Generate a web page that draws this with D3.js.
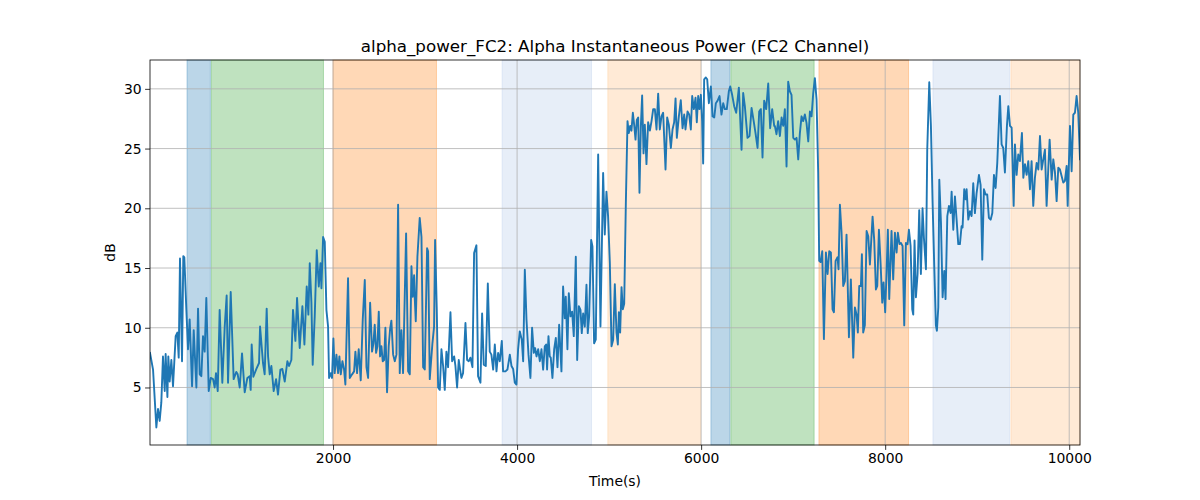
<!DOCTYPE html>
<html>
<head>
<meta charset="utf-8">
<script src="https://cdn.jsdelivr.net/npm/d3@7/dist/d3.min.js"></script>
<style>
  html, body { margin: 0; padding: 0; background: #fff; }
  svg { display: block; font-family: "DejaVu Sans", sans-serif; }
</style>
</head>
<body>
<svg id="chart" width="1200" height="500"></svg>
<script>
// ---- data ----
const title = "alpha_power_FC2: Alpha Instantaneous Power (FC2 Channel)";
const xLabel = "Time(s)";
const yLabel = "dB";
const xTicks = [2000, 4000, 6000, 8000, 10000];
const yTicks = [5, 10, 15, 20, 25, 30];
const xDomain = [11, 10117];

const times = [
11,44,80,98,116,134,152,171,181,200,210,225,243,261,290,308,323,337,359,373,384,406,424,442,468,486,515,533,551,569,587,605,623,649,671,696,714,728,747,768,797,823,844,859,888,920,949,964,986,1011,1040,1069,1094,1105,1116,1134,1167,1196,1207,1239,1257,1279,1294,1312,1330,1355,1381,1402,1428,1449,1475,1504,1522,1547,1565,1591,1609,1638,1667,1689,1714,1732,
1747,1765,1779,1801,1823,1845,1863,1874,1892,1910,1928,1946,1957,1975,1989,2004,2018,2037,2055,2069,2084,2102,2120,2134,2163,2182,2207,2229,2243,2261,2279,2301,2323,2345,2363,2381,2403,2424,2439,2453,2468,2482,2497,2511,2526,2540,2555,2569,2587,2605,2620,2634,2653,2671,2689,2707,2725,2743,2761,2794,2816,2834,2852,2866,2881,2888,2899,2917,2942,2961,2979,2997,3022,3033,3051,3080,3098,3109,3127,3142,3160,3178,3196,3214,3232,3250,3276,3294,3316,3330,3348,3366,3381,3395,3413,
3439,3457,3475,3493,3515,3533,3558,3576,3602,3620,3638,3660,3682,3703,3721,3740,3758,3776,3794,3812,3834,3848,3874,3895,3921,3939,3957,3975,3993,4011,4029,4051,4066,4084,4102,4124,4145,4163,4182,4196,4211,4229,4247,4265,4283,4301,4316,4326,4341,4355,4366,4384,4403,4421,4439,4457,4482,4500,4518,4529,4547,4562,4580,4598,4616,4638,4653,4671,4689,4703,4718,4736,4754,4768,4783,4805,4819,4837,4855,4881,4906,4935,4953,4971,4989,5008,5026,5044,
5062,5080,5095,5106,5120,5135,5149,5164,5182,5200,5214,5229,5243,5258,5272,5287,5301,5316,5330,5345,5359,5374,5388,5406,5424,5443,5461,5479,5497,5515,5533,5551,5569,5587,5613,5631,5649,5671,5689,5707,5722,5736,5758,5779,5798,5816,5830,5852,5870,5888,5903,5921,5939,5953,5968,5982,5997,6011,6022,6033,6051,6066,6084,6106,6124,6142,6160,6178,6200,6221,6240,6258,6279,6301,6316,6337,6359,6381,6410,6439,6457,6475,6504,6526,6548,6569,6591,6613,6631,6649,6667,6685,6707,6729,6750,6772,6794,
6801,6819,6837,6856,6874,6892,6910,6928,6946,6964,6982,7001,7019,7037,7055,7073,7091,7109,7127,7145,7164,7182,7200,7218,7236,7254,7272,7283,7298,7316,7334,7356,7374,7392,7410,7428,7443,7461,7482,7493,7508,7526,7544,7562,7580,7606,7627,7653,7671,7689,7703,7718,7736,7747,7761,7779,7798,7816,7834,7863,7881,7899,7914,7932,7950,7968,7982,8000,8015,8029,8044,8069,8087,8106,8124,8138,8156,8171,8189,8207,8225,8243,8258,8276,8294,8305,8319,8334,8352,8370,8388,8406,8421,8443,8457,
8479,8497,8515,8533,8551,8562,8577,8588,8606,8624,8642,8656,8675,8693,8711,8722,8740,8758,8776,8794,8812,8830,8841,8859,8874,8885,8903,8921,8939,8957,8975,8993,9019,9037,9055,9073,9091,9109,9127,9146,9164,9182,9200,9218,9247,9265,9283,9301,9323,9338,9356,9374,9396,9410,9428,9446,9464,9486,9501,9519,9537,9555,9573,9591,9609,9627,9646,9664,9682,9700,9718,9736,9754,9772,9787,9809,9827,9845,9863,9881,9899,9917,9935,9953,9972,9983,10008,10026,10044,10062,10080,10098,10117
];

const powerDb = [
7.9,6.5,1.65,3.2,2.2,3.75,7.6,4.7,7.8,4.2,7.6,5.5,7.3,5.1,9.3,9.6,7.5,15.8,7.2,16.0,15.9,11.5,8.2,10.7,5.1,9.8,5.0,11.6,6.1,5.95,9.3,8.0,12.5,4.7,5.8,5.7,5.0,6.2,4.7,11.5,5.4,10.1,12.7,5.4,13.0,5.7,6.3,6.1,5.0,7.85,4.6,5.8,5.95,4.8,8.6,5.9,6.55,7.05,10.1,7.05,6.1,11.6,7.6,6.1,6.8,4.7,5.7,4.4,6.5,6.55,5.5,7.2,6.8,7.3,11.5,8.9,12.5,8.3,11.8,8.6,13.45,11.1,
15.4,12.1,6.9,10.95,16.5,13.45,15.4,13.3,17.6,17.2,11.5,10.1,5.8,6.2,5.8,9.1,6.2,7.75,6.2,7.6,6.1,7.2,6.5,5.25,14.15,5.8,6.1,6.35,8.0,6.2,8.2,5.6,10.7,14.0,6.7,5.8,12.1,8.0,8.7,10.25,7.9,8.45,11.35,7.6,8.45,7.2,7.3,10.0,4.6,8.45,9.9,10.6,7.75,7.2,7.75,20.3,6.2,9.8,6.2,17.9,6.35,6.1,15.15,12.6,14.4,12.5,10.55,15.95,19.2,17.6,6.7,6.5,16.65,16.4,5.7,8.7,10.1,17.35,11.6,5.0,4.8,8.2,6.8,4.8,8.0,6.7,11.3,7.2,7.6,6.8,5.0,7.3,6.5,5.8,6.2,
10.4,7.3,7.2,7.5,6.7,16.25,16.9,5.95,5.4,11.2,6.9,6.8,13.7,8.0,7.75,6.5,8.6,6.35,7.9,7.2,8.9,6.35,6.35,6.5,7.75,6.8,6.55,5.4,5.25,8.2,9.7,9.0,7.2,14.85,10.7,7.75,5.8,10.0,7.9,8.3,7.6,8.2,7.2,8.2,6.5,8.45,8.6,6.5,9.3,7.6,7.5,5.8,8.2,9.15,6.7,10.25,6.35,13.45,10.8,12.6,8.2,12.9,10.95,11.35,9.3,15.95,7.3,11.8,11.5,9.55,11.2,10.1,13.6,9.55,10.95,17.35,16.8,8.7,9.0,24.5,10.1,22.95,17.8,21.4,19.3,15.4,8.45,9.0,
13.65,9.6,8.6,11.3,9.6,13.4,11.55,12.0,20.5,27.3,26.3,26.9,26.5,28.0,27.0,25.75,27.4,27.6,21.3,26.9,29.45,24.6,27.0,23.7,27.2,26.5,27.3,28.3,28.3,26.6,29.6,26.6,27.7,28.0,23.25,27.6,27.0,25.05,26.6,27.2,29.2,25.9,27.7,29.05,26.7,27.85,26.6,28.1,27.85,26.6,29.4,28.3,29.25,27.2,29.4,28.3,29.5,27.3,23.75,30.8,30.95,30.8,28.8,30.2,27.7,27.6,28.8,29.0,29.4,27.85,28.8,28.3,28.3,29.8,30.2,29.5,28.55,28.0,30.1,24.9,29.65,28.55,25.9,26.05,28.4,27.4,26.3,25.05,28.1,28.3,24.25,29.0,28.3,30.45,26.7,28.3,26.9,
26.9,26.2,27.3,26.05,27.6,26.9,28.3,23.5,30.6,29.8,29.5,25.9,25.75,25.9,24.1,26.3,27.7,27.3,27.85,27.15,25.6,28.1,27.7,29.65,30.9,29.1,23.0,15.6,15.5,16.4,9.05,16.3,14.5,16.4,16.3,11.55,11.3,15.6,15.9,14.9,20.3,17.95,13.5,13.9,17.8,9.2,14.05,7.5,11.7,11.1,9.6,13.5,13.5,16.15,9.6,10.2,18.1,17.65,15.3,19.3,17.3,13.2,13.5,18.2,15.4,12.1,13.8,11.3,14.6,18.2,12.4,18.1,14.05,17.95,16.3,17.95,17.0,17.1,16.85,10.2,17.1,17.0,18.2,16.85,11.55,11.1,17.3,12.55,14.5,19.85,14.5,20.0,17.5,14.9,24.9,
30.55,26.9,20.5,15.2,10.2,9.75,11.7,22.4,18.8,12.55,14.75,12.4,19.35,20.2,19.6,21.4,18.2,21.0,19.05,17.0,17.0,18.5,18.4,21.6,20.75,21.6,19.05,19.75,19.35,22.1,19.6,21.25,22.8,21.95,15.7,21.6,21.15,21.15,19.2,19.05,19.6,22.8,21.7,23.8,29.4,25.35,25.05,23.0,26.9,28.55,26.9,26.75,20.2,25.35,22.8,24.5,23.95,26.3,22.55,23.7,22.8,23.95,21.6,23.95,20.2,22.55,23.8,23.25,26.05,23.25,24.1,24.9,20.2,23.25,25.75,22.4,24.1,23.0,20.6,23.4,23.25,22.7,22.15,22.3,23.55,20.2,26.9,23.1,27.85,28.0,29.4,28.0,24.1
];

// shaded phases: start, end, kind
const spanStarts = [413, 678, 2000, 3837, 4986, 6106, 6323, 7280, 8519, 9366];
const spanEnds   = [667, 1896, 3124, 4809, 5995, 6313, 7228, 8254, 9352, 10117];
const spanKinds  = ["blue", "green", "orange", "lightblue", "lightorange", "blue", "green", "orange", "lightblue", "lightorange"];

// ---- drawing ----
const spanColors = {
  blue: "#1f77b4", green: "#2ca02c", orange: "#ff7f0e",
  lightblue: "#aec7e8", lightorange: "#ffbb78"
};

const svg = d3.select("#chart");
const L = 150, R = 1080, T = 60, B = 445;

const x = d3.scaleLinear().domain(xDomain).range([L, R]);
const yMin = d3.min(powerDb), yMax = d3.max(powerDb);
const pad = (yMax - yMin) * 0.05;
const y = d3.scaleLinear().domain([yMin - pad, yMax + pad]).range([B, T]);

const data = times.map((t, i) => ({ t, v: powerDb[i] }));
const spans = spanStarts.map((s, i) => ({ s, e: spanEnds[i], k: spanKinds[i] }));

svg.append("defs").append("clipPath").attr("id", "clip")
  .append("rect").attr("x", L).attr("y", T).attr("width", R - L).attr("height", B - T);

// spans
svg.append("g").selectAll("rect").data(spans).join("rect")
  .attr("x", d => x(d.s))
  .attr("y", T)
  .attr("width", d => x(d.e) - x(d.s))
  .attr("height", B - T)
  .attr("fill", d => spanColors[d.k])
  .attr("fill-opacity", 0.3)
  .attr("stroke", d => spanColors[d.k])
  .attr("stroke-opacity", 0.3)
  .attr("stroke-width", 1);

// grid
const grid = svg.append("g");
grid.selectAll("line.gx").data(xTicks).join("line")
  .attr("x1", d => x(d)).attr("x2", d => x(d))
  .attr("y1", T).attr("y2", B)
  .attr("stroke", "#b0b0b0").attr("stroke-width", 0.8);
grid.selectAll("line.gy").data(yTicks).join("line")
  .attr("y1", d => y(d)).attr("y2", d => y(d))
  .attr("x1", L).attr("x2", R)
  .attr("stroke", "#b0b0b0").attr("stroke-width", 0.8);

// line
const line = d3.line().x(d => x(d.t)).y(d => y(d.v));
svg.append("path").datum(data)
  .attr("clip-path", "url(#clip)")
  .attr("d", line)
  .attr("fill", "none")
  .attr("stroke", "#1f77b4")
  .attr("stroke-width", 1.9)
  .attr("stroke-linejoin", "round")
  .attr("stroke-linecap", "square");

// axes
const xAxis = svg.append("g").attr("transform", `translate(0,${B})`)
  .call(d3.axisBottom(x).tickValues(xTicks).tickFormat(d3.format("d")).tickSize(4.9).tickPadding(3.5));
const yAxis = svg.append("g").attr("transform", `translate(${L},0)`)
  .call(d3.axisLeft(y).tickValues(yTicks).tickFormat(d3.format("d")).tickSize(4.9).tickPadding(3.5));
[xAxis, yAxis].forEach(g => {
  g.select(".domain").remove();
  g.selectAll(".tick line").attr("stroke", "#000").attr("stroke-width", 0.8);
  g.selectAll(".tick text").attr("fill", "#000")
    .style("font-family", "DejaVu Sans, sans-serif").style("font-size", "13.9px");
});

// spines
svg.append("rect").attr("x", L).attr("y", T).attr("width", R - L).attr("height", B - T)
  .attr("fill", "none").attr("stroke", "#000").attr("stroke-width", 0.8);

// labels
svg.append("text").attr("x", (L + R) / 2).attr("y", 52)
  .attr("text-anchor", "middle").style("font-size", "16.7px").attr("fill", "#000")
  .text(title);
svg.append("text").attr("x", (L + R) / 2).attr("y", 486)
  .attr("text-anchor", "middle").style("font-size", "13.9px").attr("fill", "#000")
  .text(xLabel);
svg.append("text")
  .attr("transform", `translate(115,${(T + B) / 2}) rotate(-90)`)
  .attr("text-anchor", "middle").style("font-size", "13.9px").attr("fill", "#000")
  .text(yLabel);
</script>
</body>
</html>
